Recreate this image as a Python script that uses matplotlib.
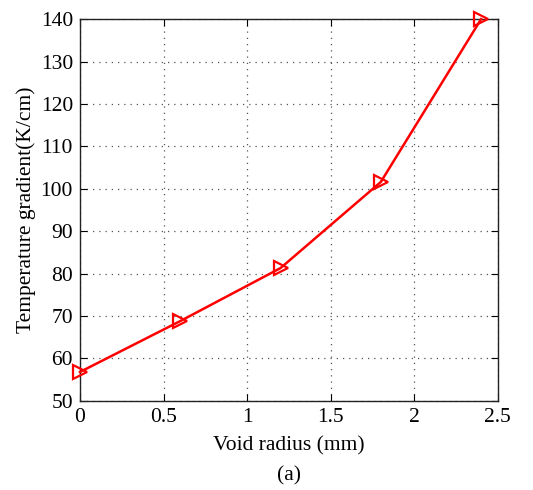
import matplotlib
matplotlib.use("Agg")
import matplotlib.pyplot as plt

# values
void_radius = [0.0, 0.6, 1.2, 1.8, 2.4]
temp_gradient = [56.8, 68.8, 81.3, 101.6, 140.0]
x_ticks = [0, 0.5, 1, 1.5, 2, 2.5]
x_ticklabels = ["0", "0.5", "1", "1.5", "2", "2.5"]
y_ticks = list(range(50, 141, 10))

plt.rcParams['font.family'] = ['Liberation Serif', 'DejaVu Serif']
plt.rcParams['font.size'] = 15.5

fig = plt.figure(figsize=(5.33, 4.9), dpi=100)
ax = fig.add_axes([0.150, 0.182, 0.784, 0.779])

ax.plot(void_radius, temp_gradient, color='red', linewidth=1.8,
        marker='>', markersize=10, markerfacecolor='none',
        markeredgecolor='red', markeredgewidth=1.6, clip_on=False, zorder=3)

ax.set_xlim(0, 2.5)
ax.set_ylim(50, 140)
ax.set_xticks(x_ticks)
ax.set_xticklabels(x_ticklabels)
ax.set_yticks(y_ticks)

ax.grid(True, linestyle=(0, (1, 4)), color='#555555', linewidth=0.9)
ax.tick_params(direction='in', top=True, right=True, length=5, width=0.8, pad=5)
for s in ax.spines.values():
    s.set_linewidth(1.0)
    s.set_color('#222222')

ax.set_xlabel("Void radius (mm)", labelpad=7)
ax.set_ylabel("Temperature gradient(K/cm)", labelpad=3)

fig.text(0.542, 0.028, "(a)", ha='center', va='center', fontsize=15.5)

fig.savefig("out.png", dpi=100)
